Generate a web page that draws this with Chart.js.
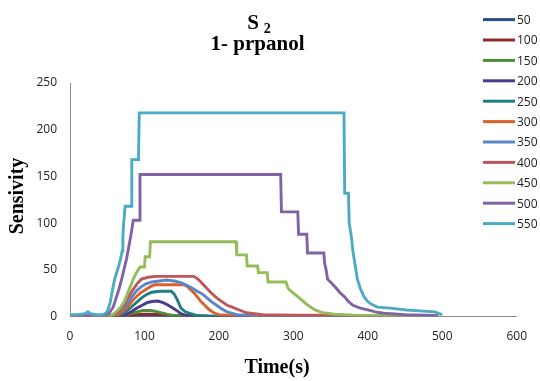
<!DOCTYPE html>
<html>
<head>
<meta charset="utf-8">
<script src="https://cdn.jsdelivr.net/npm/chart.js@4"></script>
<style>
html, body { margin: 0; padding: 0; background: #fff; }
#wrap { width: 540px; height: 381px; position: relative; }
</style>
</head>
<body>
<div id="wrap"><canvas id="sensChart" width="540" height="381"></canvas></div>
<script>
// concentrations (legend) and line colours
const seriesLabels = ['50', '100', '150', '200', '250', '300', '350', '400', '450', '500', '550'];
const seriesColors = ['#2a4d8f', '#8b2c2c', '#4f8c3b', '#4a3c88', '#1f7d88', '#db612b',
    '#5b86c8', '#be565a', '#94bd5a', '#7f63a4', '#4aabc5'];

// [time (s), sensitivity]
const s50 = [[0, 0], [60, 0.2], [90, 1], [120, 1], [150, 0.3], [200, 0], [490, 0]];
const s100 = [[0, 0], [70, 0.3], [85, 1.5], [95, 2.5], [110, 2.5], [125, 2], [135, 1], [150, 0.3], [200, 0], [490, 0]];
const s150 = [[0, 0], [65, 0.3], [75, 1.5], [82, 3], [90, 5], [98, 6.5], [108, 6.5], [115, 5.5], [122, 4],
    [130, 2.5], [140, 1], [150, 0.5], [165, 0], [490, 0]];
const s200 = [[0, 0], [65, 0.5], [75, 2], [82, 5], [90, 9], [97, 12], [104, 15], [110, 16], [118, 16.5],
    [125, 15], [132, 12], [138, 9], [144, 6], [149, 3], [157, 1], [165, 0.5], [200, 0], [490, 0]];
const s250 = [[0, 0.5], [60, 0.5], [70, 3], [78, 7], [85, 12], [92, 17], [98, 21], [104, 24], [110, 26],
    [120, 27], [136, 27], [140, 24], [144, 18], [149, 9], [155, 5], [162, 3], [171, 1], [185, 0.5], [490, 0.3]];
const s300 = [[0, 0.5], [55, 0.5], [65, 2], [72, 6], [78, 11], [84, 17], [90, 22], [96, 26], [102, 29],
    [108, 32], [114, 34], [153, 34], [158, 32], [163, 28], [167, 25], [171, 21], [176, 16], [181, 12],
    [186, 8], [193, 4], [200, 2], [215, 1], [260, 0.5], [490, 0.3]];
const s350 = [[0, 1], [55, 1], [65, 4], [72, 9], [78, 15], [84, 22], [90, 28], [96, 32], [102, 35],
    [110, 37], [120, 38], [130, 39], [140, 38], [150, 36], [158, 33], [165, 30], [171, 27], [178, 24],
    [184, 20], [190, 16], [197, 12], [204, 8], [211, 5], [224, 2], [240, 1], [300, 0.5], [490, 0.3]];
const s400 = [[0, 1], [55, 1], [65, 5], [72, 12], [78, 20], [84, 28], [90, 35], [96, 40], [105, 42],
    [115, 43], [166, 43], [172, 40], [178, 35], [184, 30], [190, 25], [197, 20], [204, 16], [211, 12],
    [218, 10], [224, 8], [237, 4], [259, 2], [300, 1.5], [350, 1.5], [400, 1], [420, 0.5], [490, 0.3]];
const s450 = [[0, 1], [55, 1], [62, 5], [68, 10], [73, 16], [77, 24], [81, 32], [85, 40], [90, 48],
    [94, 53], [100, 53], [101, 64], [107, 64], [108, 80], [223, 80], [224, 66], [237, 66], [238, 54],
    [252, 54], [253, 47], [265, 47], [266, 37], [290, 37], [293, 30], [300, 25], [308, 20], [318, 13],
    [329, 7], [340, 4], [355, 2.5], [380, 1.5], [420, 1], [470, 1], [490, 0.5]];
const s500 = [[0, 1], [45, 1], [52, 3], [58, 10], [62, 20], [66, 30], [70, 42], [73, 52], [76, 62],
    [79, 75], [82, 88], [85, 103], [93, 103], [94, 152], [283, 152], [284, 112], [306, 112], [307, 88],
    [318, 88], [319, 68], [341, 68], [342, 57], [344, 50], [346, 40], [352, 35], [358, 30], [362, 26],
    [369, 21], [374, 16], [380, 12], [390, 9], [400, 7], [410, 5], [421, 3.5], [450, 2], [490, 1], [495, 0.5]];
const s550 = [[0, 2], [10, 2], [20, 3], [24, 5], [28, 3], [35, 2], [45, 2], [50, 5], [54, 15], [57, 28],
    [60, 40], [65, 53], [68, 62], [70, 70], [71, 85], [72, 100], [73, 108], [74, 118], [82, 118],
    [83, 168], [92, 168], [93, 218], [368, 218], [369, 132], [374, 132], [375, 100], [378, 85],
    [380, 70], [383, 55], [386, 40], [390, 30], [395, 21], [400, 16], [405, 13], [413, 10], [430, 9],
    [452, 7], [470, 6], [490, 5], [496, 3], [500, 2]];

const seriesData = [s50, s100, s150, s200, s250, s300, s350, s400, s450, s500, s550];

const serif = '"Liberation Serif", "Times New Roman", serif';
const sans = '"Open Sans", "Liberation Sans", sans-serif';

// titles + legend drawn on top of the chart
const textPlugin = {
    id: 'textPlugin',
    afterDraw(chart) {
        const ctx = chart.ctx;
        ctx.save();
        ctx.fillStyle = '#000';
        ctx.textBaseline = 'alphabetic';

        // title, line 1: S with subscript 2
        ctx.font = 'bold 21px ' + serif;
        const sW = ctx.measureText('S').width;
        ctx.font = 'bold 14px ' + serif;
        const subW = ctx.measureText('2').width;
        const gap = 5;
        let x0 = 259 - (sW + gap + subW) / 2;
        ctx.font = 'bold 21px ' + serif;
        ctx.textAlign = 'left';
        ctx.fillText('S', x0, 29);
        ctx.font = 'bold 14px ' + serif;
        ctx.fillText('2', x0 + sW + gap, 33);

        // title, line 2
        ctx.font = 'bold 21px ' + serif;
        ctx.textAlign = 'center';
        ctx.fillText('1- prpanol', 257.5, 50);

        // axis titles
        ctx.font = 'bold 20px ' + serif;
        ctx.textBaseline = 'middle';
        ctx.fillText('Time(s)', 277, 368);
        ctx.save();
        ctx.translate(18, 196);
        ctx.rotate(-Math.PI / 2);
        ctx.fillText('Sensivity', 0, 0);
        ctx.restore();

        // legend
        ctx.font = '12px ' + sans;
        ctx.textAlign = 'left';
        chart.data.datasets.forEach((ds, i) => {
            const y = 19.6 + 20.4 * i;
            ctx.strokeStyle = ds.borderColor;
            ctx.lineWidth = 3;
            ctx.beginPath();
            ctx.moveTo(483, y);
            ctx.lineTo(515, y);
            ctx.stroke();
            ctx.fillStyle = '#222';
            ctx.fillText(ds.label, 517, y + 1);
        });
        ctx.restore();
    }
};

function buildDatasets() {
    return seriesLabels.map((label, i) => ({
        label: label,
        data: seriesData[i].map(p => ({ x: p[0], y: p[1] })),
        borderColor: seriesColors[i],
        backgroundColor: seriesColors[i],
        borderWidth: 2.9,
        pointRadius: 0,
        showLine: true,
        tension: 0,
        fill: false,
        order: seriesLabels.length - 1 - i
    }));
}

document.addEventListener('DOMContentLoaded', function () {
    const ctx = document.getElementById('sensChart').getContext('2d');
    new Chart(ctx, {
        type: 'scatter',
        data: { datasets: buildDatasets() },
        options: {
            responsive: false,
            animation: false,
            devicePixelRatio: 1,
            layout: { padding: { left: 0, right: 15, top: 83, bottom: 0 } },
            plugins: {
                legend: { display: false },
                title: { display: false },
                tooltip: { enabled: false }
            },
            scales: {
                x: {
                    type: 'linear',
                    min: 0,
                    max: 600,
                    grid: { display: false, drawTicks: false },
                    border: { display: true, color: '#8c8c8c', width: 1 },
                    ticks: {
                        stepSize: 100,
                        padding: 13,
                        color: '#222',
                        font: { family: sans, size: 12 }
                    },
                    afterFit: function (scale) { scale.height = 64.5; }
                },
                y: {
                    min: 0,
                    max: 250,
                    grid: { display: false, drawTicks: false },
                    border: { display: true, color: '#8c8c8c', width: 1 },
                    ticks: {
                        stepSize: 50,
                        padding: 13,
                        color: '#222',
                        font: { family: sans, size: 12 }
                    },
                    afterFit: function (scale) { scale.width = 70; }
                }
            }
        },
        plugins: [textPlugin]
    });
});
</script>
</body>
</html>
